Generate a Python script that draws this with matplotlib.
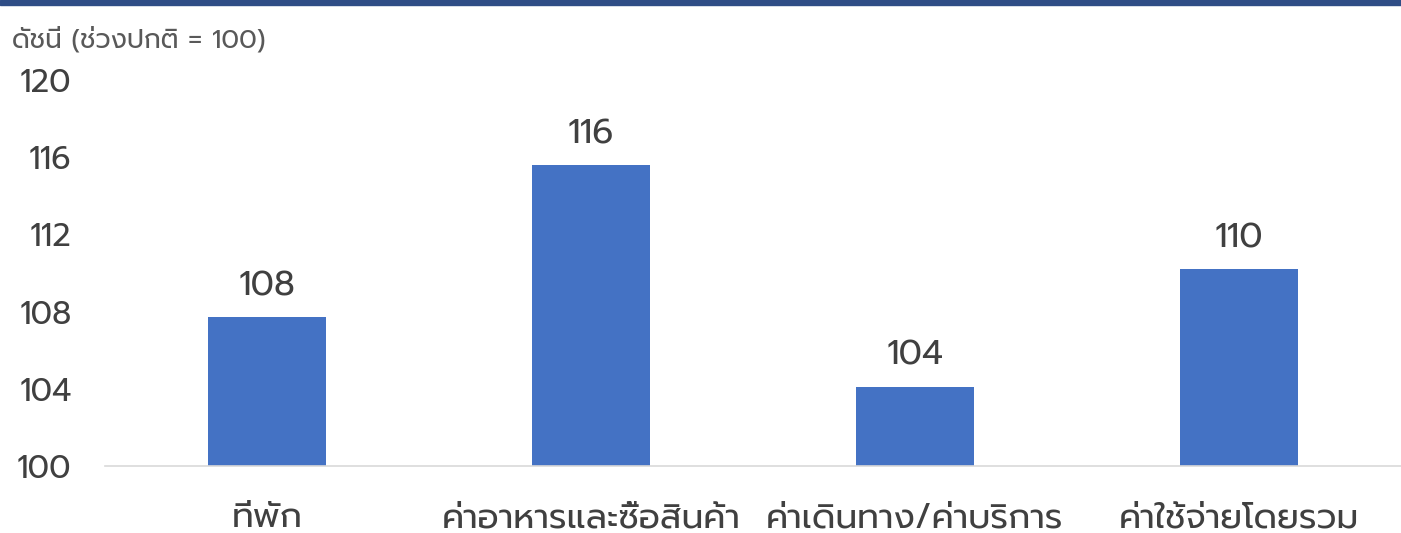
import matplotlib
matplotlib.use("Agg")
import matplotlib.pyplot as plt
from matplotlib.patches import Rectangle

# data
categories = ["ที่พัก", "ค่าอาหารและซื้อสินค้า", "ค่าเดินทาง/ค่าบริการ", "ค่าใช้จ่ายโดยรวม"]
index_values = [107.7, 115.6, 104.1, 110.2]
value_labels = ["108", "116", "104", "110"]
y_ticks = [100, 104, 108, 112, 116, 120]
y_title = "ดัชนี (ช่วงปกติ = 100)"

plt.rcParams["font.family"] = ["Prompt", "DejaVu Sans"]

fig = plt.figure(figsize=(14.01, 5.33), dpi=100)
ax = fig.add_axes([105 / 1401, 1 - 466 / 533, 1 - 105 / 1401, (466 - 80) / 533])

x = range(len(categories))
ax.bar(x, [v - 100 for v in index_values], bottom=100, width=0.365,
       color="#4472C4", zorder=2)

for i, (v, lab) in enumerate(zip(index_values, value_labels)):
    ax.annotate(lab, (i, v), xytext=(0, 10), textcoords="offset points",
                ha="center", va="bottom", fontsize=25, color="#404040")

ax.set_xlim(-0.5, 3.5)
ax.set_ylim(100, 120)
ax.set_yticks(y_ticks)
ax.set_xticks(list(x))
ax.set_xticklabels(categories, fontsize=25, color="#404040")
ax.tick_params(axis="x", length=0, pad=26)
ax.tick_params(axis="y", length=0, pad=24, labelsize=23, labelcolor="#404040")

for s in ["top", "right", "left"]:
    ax.spines[s].set_visible(False)
ax.spines["bottom"].set_color("#d9d9d9")
ax.spines["bottom"].set_linewidth(1.2)

fig.text(12 / 1401, 1 - 40 / 533, y_title, fontsize=19, color="#595959",
         ha="left", va="center")

# dark band along the top edge
fig.patches.append(Rectangle((0, 1 - 5 / 533), 1, 5 / 533, transform=fig.transFigure,
                             color="#2f4d86", zorder=5))

fig.savefig("out.png", dpi=100)
